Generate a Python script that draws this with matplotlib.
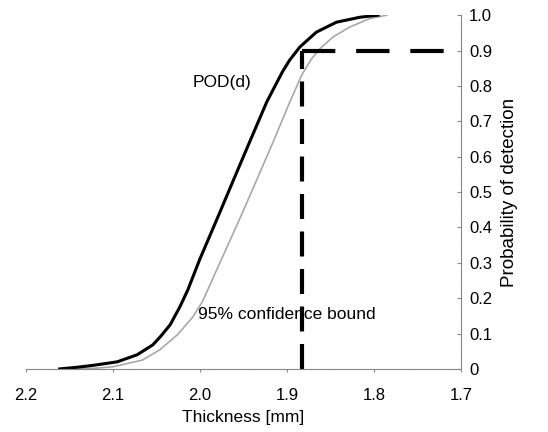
import matplotlib.pyplot as plt

# Curvas (espesor en mm, probabilidad de deteccion)
pod_x = [2.161, 2.14, 2.123, 2.095, 2.072, 2.054, 2.045, 2.034, 2.023, 2.014,
         2.000, 1.980, 1.962, 1.943, 1.923, 1.905, 1.897, 1.885, 1.866,
         1.843, 1.816, 1.795]
pod_y = [0.0, 0.005, 0.01, 0.02, 0.04, 0.068, 0.092, 0.125, 0.175, 0.222,
         0.31, 0.425, 0.53, 0.64, 0.755, 0.84, 0.872, 0.91, 0.952,
         0.98, 0.994, 1.0]

bound_x = [2.15, 2.12, 2.10, 2.066, 2.046, 2.026, 2.008, 1.997, 1.974, 1.954,
           1.938, 1.916, 1.897, 1.883, 1.872, 1.862, 1.847, 1.828, 1.805,
           1.785]
bound_y = [0.0, 0.002, 0.006, 0.025, 0.054, 0.096, 0.147, 0.19, 0.316, 0.425,
           0.515, 0.64, 0.752, 0.83, 0.875, 0.905, 0.938, 0.966, 0.99,
           1.0]

a90 = 1.883   # espesor para POD 90/95
p90 = 0.9

xticks = [2.2, 2.1, 2.0, 1.9, 1.8, 1.7]
xticklabels = ['2.2', '2.1', '2.0', '1.9', '1.8', '1.7']
yticks = [0, 0.1, 0.2, 0.3, 0.4, 0.5, 0.6, 0.7, 0.8, 0.9, 1.0]
yticklabels = ['0', '0.1', '0.2', '0.3', '0.4', '0.5', '0.6', '0.7', '0.8', '0.9', '1.0']

plt.rcParams['font.family'] = ['Liberation Sans', 'DejaVu Sans']

fig = plt.figure(figsize=(5.48, 4.32), dpi=100)
ax = fig.add_axes([0.047, 0.146, 0.794, 0.819])

ax.plot(bound_x, bound_y, color='#a8a8a8', lw=1.2, solid_joinstyle='round')
ax.plot(pod_x, pod_y, color='black', lw=2.2, solid_joinstyle='round')

# lineas discontinuas a 90%
ax.plot([a90, a90], [0, p90], color='black', lw=3, dashes=(6, 3))
ax.plot([a90, 1.7], [p90, p90], color='black', lw=3, dashes=(8, 5))

ax.text(2.008, 0.81, 'POD(d)', fontsize=12.5, va='center', ha='left')
ax.text(2.002, 0.153, '95% confidence bound', fontsize=12.5, va='center', ha='left')

ax.set_xlim(2.2, 1.7)
ax.set_ylim(0, 1.0)
ax.set_xticks(xticks)
ax.set_xticklabels(xticklabels)
ax.set_yticks(yticks)
ax.set_yticklabels(yticklabels)
ax.yaxis.tick_right()
ax.yaxis.set_label_position('right')
ax.set_xlabel('Thickness [mm]', fontsize=12.5, labelpad=5)
ax.set_ylabel('Probability of detection', fontsize=13.5, labelpad=6)
ax.tick_params(axis='x', length=2, pad=12, labelsize=12, color='#888888')
ax.tick_params(axis='y', length=3, pad=6, labelsize=12, color='#888888', direction='in')

for s in ['top', 'left']:
    ax.spines[s].set_visible(False)
for s in ['bottom', 'right']:
    ax.spines[s].set_color('#888888')
    ax.spines[s].set_linewidth(0.8)
    ax.spines[s].set_linestyle((0, (1, 0.5)))

fig.savefig('out.png', dpi=100)
